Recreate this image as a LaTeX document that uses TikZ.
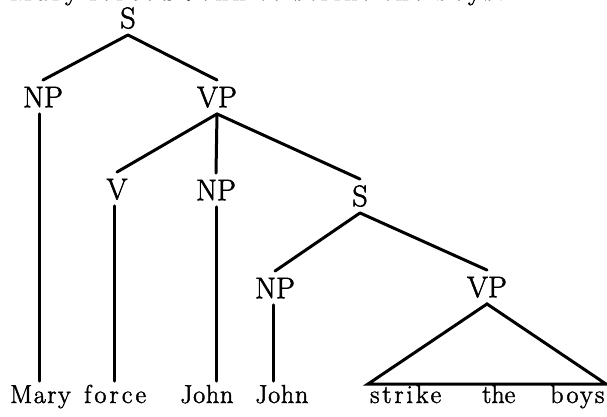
\documentclass[tikz,border=0pt]{standalone}
\usepackage{fontspec}
\setmainfont{Latin Modern Roman}
\begin{document}
\begin{tikzpicture}[x=1pt,y=-1pt,
  edge/.style={line width=3pt, line cap=round},
  lbl/.style={font=\fontsize{30}{33}\selectfont\addfontfeatures{FakeBold=1.8}, text height=20.5pt, text depth=0pt, inner xsep=0pt, inner ysep=6.5pt, anchor=center},
  word/.style={font=\fontsize{26}{29}\selectfont, text height=17.8pt, inner xsep=0pt, inner ysep=4pt, anchor=base west},
  caption/.style={font=\fontsize{26}{29}\selectfont, inner sep=0pt, anchor=base west}]
\useasboundingbox (0,0) rectangle (607,416);
\begin{scope}
\clip (0,0) rectangle (607,416);
\node[caption] (cap) at (10,0) {\addfontfeatures{LetterSpace=15,FakeBold=1.8}Mary forced John to strike the boys.};
\end{scope}
% category labels
\node[lbl] (S1)  at (128,18)  {S};
\node[lbl] (NP1) at (43,97)   {NP};
\node[lbl] (VP1) at (217,97)  {VP};
\node[lbl] (V)   at (117,189) {V};
\node[lbl] (NP2) at (216,190) {NP};
\node[lbl] (S2)  at (360,196) {S};
\node[lbl] (NP3) at (275,288) {NP};
\node[lbl] (VP2) at (487,287) {VP};
% words
\node[word] (w1) at (10,403)  {\addfontfeatures{LetterSpace=6,FakeBold=1.8}Mary};
\node[word] (w2) at (84,403)  {\addfontfeatures{LetterSpace=12,FakeBold=1.8}force};
\node[word] (w3) at (180,403) {\addfontfeatures{LetterSpace=3,FakeBold=1.8}John};
\node[word] (w4) at (255,403) {\addfontfeatures{LetterSpace=3,FakeBold=1.8}John};
\node[word] (w5) at (370,403) {\addfontfeatures{LetterSpace=11,FakeBold=1.8}strike};
\node[word] (w6) at (482,403) {\addfontfeatures{FakeBold=1.8}the};
\node[word] (w7) at (550,403) {\addfontfeatures{LetterSpace=9,FakeBold=1.8}boys};
\coordinate (tl) at (368,384);
\coordinate (tr) at (606,384);
% branches
\draw[edge] (S1.south) -- (NP1.north);
\draw[edge] (S1.south) -- (VP1.north);
\draw[edge] ([xshift=-4pt]NP1.south) -- ([xshift=-4pt]NP1.south |- w1.north);
\draw[edge] (VP1.south) -- (V.north);
\draw[edge] (VP1.south) -- (NP2.north);
\draw[edge] (VP1.south) -- (S2.north);
\draw[edge] ([xshift=-3pt]V.south) -- ([xshift=-3pt]V.south |- w2.north);
\draw[edge] (NP2.south) -- (NP2.south |- w3.north);
\draw[edge] (S2.south) -- (NP3.north);
\draw[edge] (S2.south) -- (VP2.north);
\draw[edge] ([xshift=-2pt]NP3.south) -- ([xshift=-2pt]NP3.south |- w4.north);
\draw[edge, line join=miter] (VP2.south) -- (tl) -- (tr) -- cycle;
\end{tikzpicture}
\end{document}
